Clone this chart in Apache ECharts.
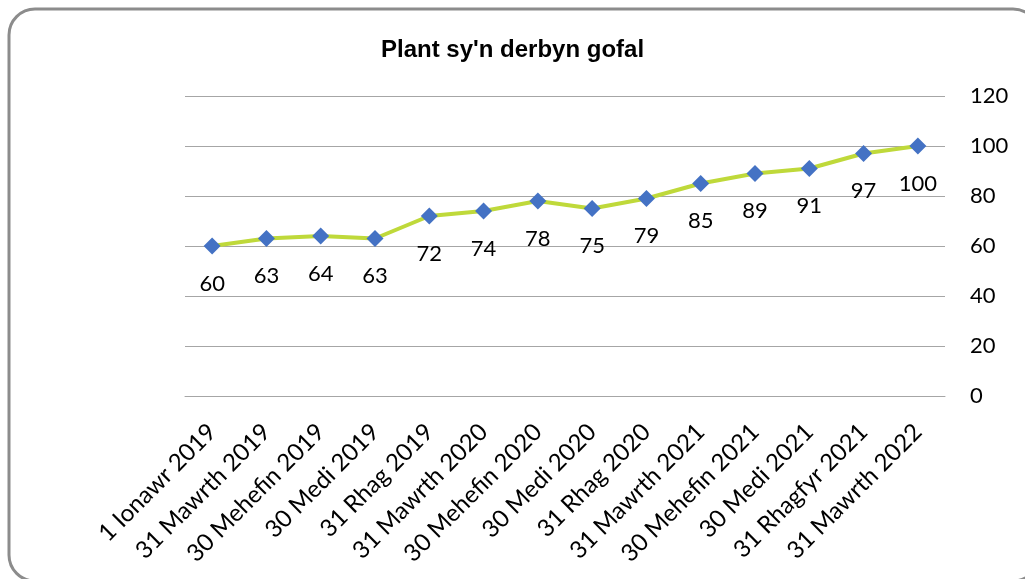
<!DOCTYPE html>
<html>
<head>
<meta charset="utf-8">
<style>
  html, body { margin: 0; padding: 0; background: #fff; }
  #chart { width: 1025px; height: 579px; }
</style>
<script src="https://cdn.jsdelivr.net/npm/echarts@6/dist/echarts.min.js"></script>
</head>
<body>
<div id="chart"></div>
<script>
// categories and values
var dates = ['1 Ionawr 2019', '31 Mawrth 2019', '30 Mehefin 2019', '30 Medi 2019', '31 Rhag 2019',
    '31 Mawrth 2020', '30 Mehefin 2020', '30 Medi 2020', '31 Rhag 2020', '31 Mawrth 2021',
    '30 Mehefin 2021', '30 Medi 2021', '31 Rhagfyr 2021', '31 Mawrth 2022'];
var children = [60, 63, 64, 63, 72, 74, 78, 75, 79, 85, 89, 91, 97, 100];

var myChart = echarts.init(document.getElementById('chart'));

var option = {
    backgroundColor: '#fff',
    animation: false,
    title: {
        text: "Plant sy'n derbyn gofal",
        left: 'center',
        top: 33,
        textStyle: {
            fontFamily: 'Liberation Sans',
            fontWeight: 'bold',
            fontSize: 24,
            color: '#000'
        }
    },
    // rounded frame round the chart
    graphic: [{
        type: 'rect',
        shape: { x: 9, y: 9, width: 1030, height: 572, r: 26 },
        style: { fill: 'none', stroke: '#8c8c8c', lineWidth: 3 },
        silent: true
    }],
    grid: { left: 185, right: 80, top: 96, bottom: 183 },
    xAxis: {
        type: 'category',
        data: dates,
        boundaryGap: true,
        axisLine: { show: true, lineStyle: { color: '#a6a6a6', width: 1 } },
        axisTick: { show: false },
        axisLabel: {
            rotate: 45,
            interval: 0,
            margin: 32,
            fontFamily: 'Lato',
            fontSize: 24,
            color: '#000'
        }
    },
    yAxis: {
        type: 'value',
        position: 'right',
        min: 0,
        max: 120,
        interval: 20,
        axisLine: { show: false },
        axisTick: { show: false },
        splitLine: { lineStyle: { color: '#a6a6a6', width: 1 } },
        axisLabel: {
            margin: 25,
            fontFamily: 'Lato',
            fontSize: 22,
            color: '#000'
        }
    },
    series: [{
        type: 'line',
        data: children,
        symbol: 'diamond',
        symbolSize: 17,
        itemStyle: { color: '#4472c4' },
        lineStyle: { color: '#bfd93a', width: 4 },
        label: {
            show: true,
            position: 'bottom',
            distance: 18,
            fontFamily: 'Lato',
            fontSize: 22,
            color: '#000'
        }
    }]
};

myChart.setOption(option);
window.addEventListener('resize', function () {
    myChart.resize();
});
</script>
</body>
</html>
